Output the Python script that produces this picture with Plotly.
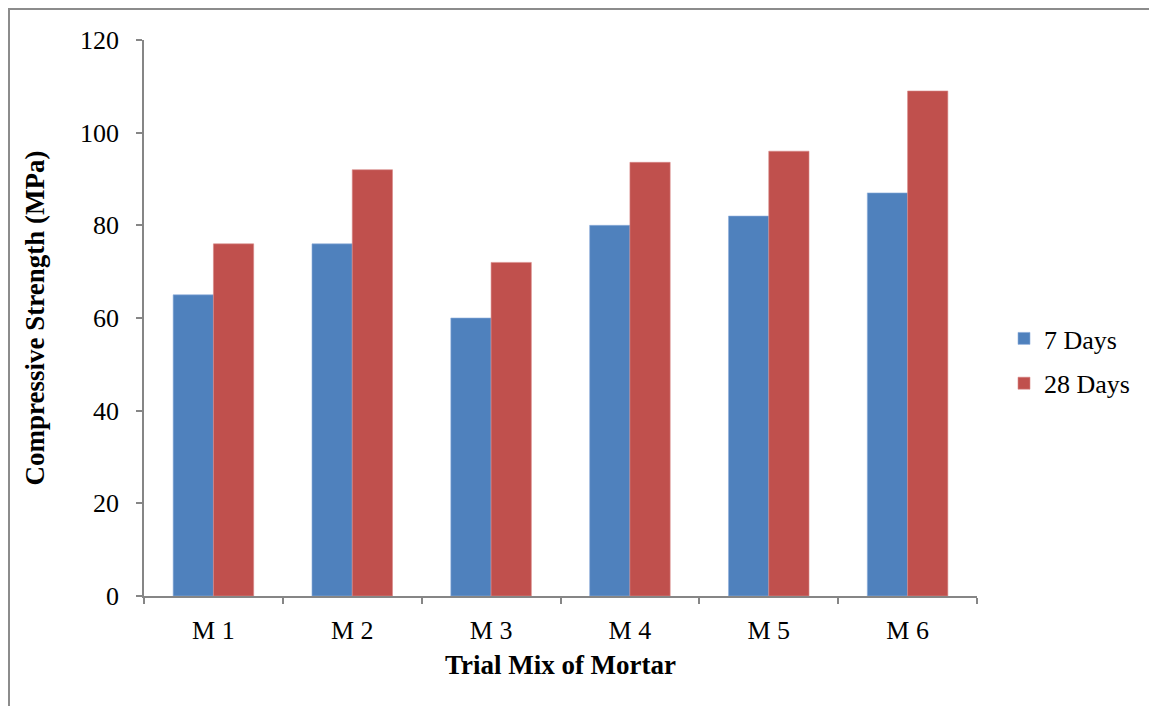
import plotly.graph_objects as go

# Compressive strength of the trial mortar mixes
mixes = ["M 1", "M 2", "M 3", "M 4", "M 5", "M 6"]
strength_7_days = [65, 76, 60, 80, 82, 87]
strength_28_days = [76, 92, 72, 93.6, 96, 109]

BLUE = "#4F81BD"
RED = "#C0504D"
AXIS_GREY = "#868686"
FONT = "Liberation Serif, Times New Roman, serif"

fig = go.Figure()
fig.add_trace(go.Bar(
    x=mixes, y=strength_7_days, name="7 Days", legendgroup="d7",
    marker=dict(color=BLUE, line=dict(color="#8eaedb", width=0.6)),
))
fig.add_trace(go.Bar(
    x=mixes, y=strength_28_days, name="28 Days", legendgroup="d28",
    marker=dict(color=RED, line=dict(color="#d98a88", width=0.6)),
))

W, H = 1149, 706
L, R, T, B = 144, 172, 40, 110
plot_w = W - L - R
plot_h = H - T - B


def px_x(p):
    return (p - L) / plot_w


def px_y(p):
    return (H - B - p) / plot_h


fig.update_layout(
    width=W, height=H,
    margin=dict(l=L, r=R, t=T, b=B),
    plot_bgcolor="white", paper_bgcolor="white",
    barmode="group", bargap=0.42, bargroupgap=0,
    font=dict(family=FONT, size=26, color="black"),
    showlegend=True,
    legend=dict(
        x=px_x(1004), y=px_y(361), xanchor="left", yanchor="middle",
        font=dict(family=FONT, size=26, color="black"),
        bgcolor="rgba(0,0,0,0)", itemwidth=30, tracegroupgap=8,
    ),
    xaxis=dict(
        title=dict(text="<b>Trial Mix of Mortar</b>", font=dict(family=FONT, size=27), standoff=11),
        showline=True, linecolor=AXIS_GREY, linewidth=1.5,
        ticks="outside", tickson="boundaries", ticklen=6, tickcolor=AXIS_GREY, tickwidth=1.5,
        tickfont=dict(family=FONT, size=26), ticklabelstandoff=10,
        showgrid=False, zeroline=False,
    ),
    yaxis=dict(
        title=dict(text="<b>Compressive Strength (MPa)</b>", font=dict(family=FONT, size=27), standoff=28),
        range=[0, 120], dtick=20, tick0=0,
        showline=True, linecolor=AXIS_GREY, linewidth=1.5,
        ticks="outside", ticklen=6, tickcolor=AXIS_GREY, tickwidth=1.5,
        tickfont=dict(family=FONT, size=26), ticklabelstandoff=12,
        showgrid=False, zeroline=False,
    ),
    shapes=[
        dict(
            type="rect", xref="paper", yref="paper",
            x0=px_x(9), x1=px_x(W + 20), y0=px_y(H + 20), y1=px_y(9),
            line=dict(color="#8c8c8c", width=2), fillcolor="rgba(0,0,0,0)",
            layer="below",
        )
    ],
)

fig.write_html("out.html")
